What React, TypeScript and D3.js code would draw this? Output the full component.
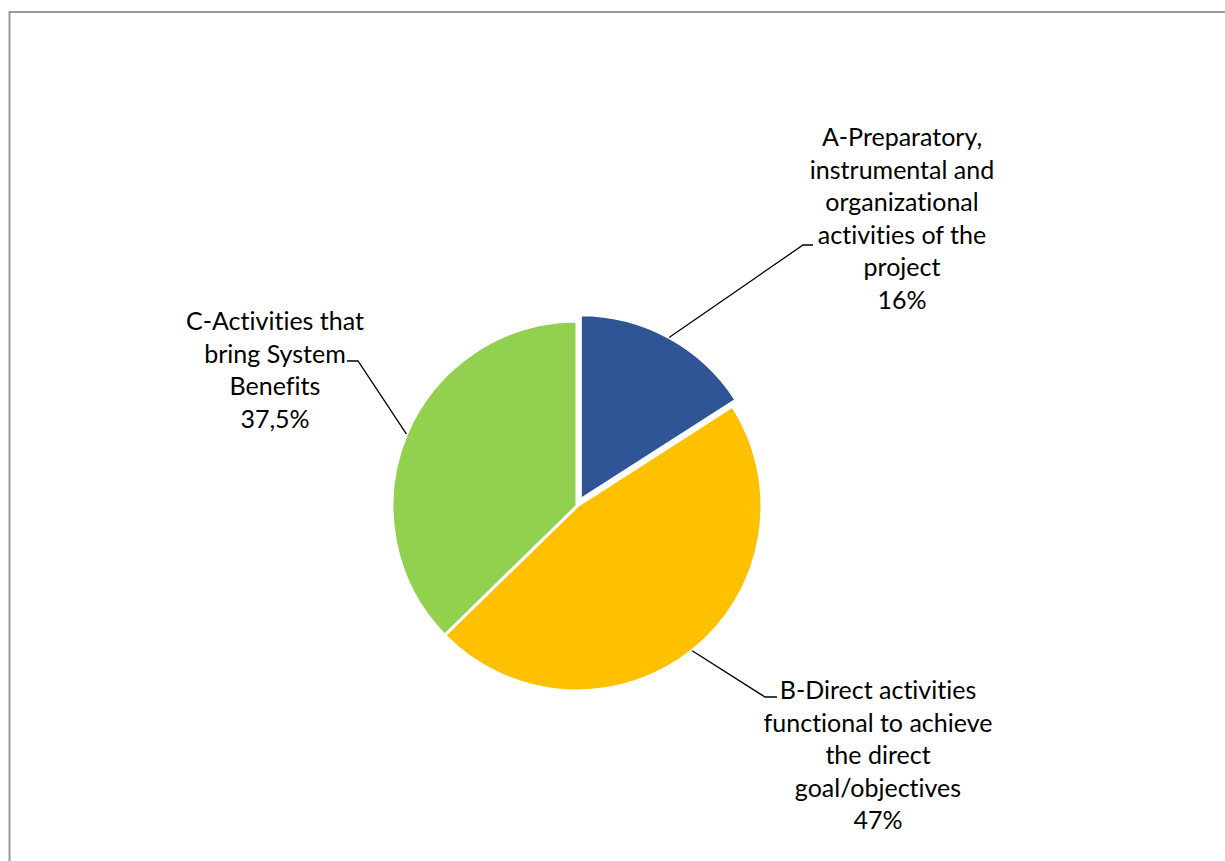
import React from "react";
import * as d3 from "d3";

const categories = ["A", "B", "C"];
const labelLines = [
  ["A-Preparatory,", "instrumental and", "organizational", "activities of the", "project"],
  ["B-Direct activities", "functional to achieve", "the direct", "goal/objectives"],
  ["C-Activities that", "bring System", "Benefits"],
];
const values = [16, 47, 37.5];
const valueLabels = ["16%", "47%", "37,5%"];
const colors = ["#2F5597", "#FFC000", "#92D050"];
const explode = [7, 0, 0];

// label layout: text center x, first-line center y, elbow point, elbow end
const labelLayout = [
  { x: 902, y: 137, elbow: [803, 245], end: [813, 245] },
  { x: 878, y: 690, elbow: [765, 697], end: [777, 697] },
  { x: 275, y: 321, elbow: [358, 361], end: [347, 361] },
];

const W = 1225;
const H = 861;
const cx = 577;
const cy = 506;
const R = 185;
const lineH = 32.6;

export default function App() {
  const pie = d3.pie<number>().sort(null).value((d) => d)(values);
  const arc = d3.arc<d3.PieArcDatum<number>>().innerRadius(0).outerRadius(R);
  return (
    <svg width={W} height={H} style={{ position: "absolute", left: 0, top: 0 }}>
      <rect x={0} y={0} width={W} height={H} fill="#fff" />
      <rect x={9.5} y={12} width={W + 20} height={H + 20} fill="none" stroke="#999" strokeWidth={2} />
      <g transform={`translate(${cx},${cy})`}>
        {pie.map((p, i) => {
          const mid = (p.startAngle + p.endAngle) / 2;
          const ox = Math.sin(mid) * explode[i];
          const oy = -Math.cos(mid) * explode[i];
          return (
            <path
              key={categories[i]}
              d={arc(p) || ""}
              transform={`translate(${ox},${oy})`}
              fill={colors[i]}
              stroke="#fff"
              strokeWidth={3}
              strokeLinejoin="round"
            />
          );
        })}
      </g>
      {pie.map((p, i) => {
        const mid = (p.startAngle + p.endAngle) / 2;
        const r = R + explode[i];
        const sx = cx + Math.sin(mid) * r;
        const sy = cy - Math.cos(mid) * r;
        const L = labelLayout[i];
        return (
          <polyline
            key={"l" + i}
            points={`${sx},${sy} ${L.elbow[0]},${L.elbow[1]} ${L.end[0]},${L.end[1]}`}
            fill="none"
            stroke="#000"
            strokeWidth={1.3}
          />
        );
      })}
      {labelLines.map((lines, i) => {
        const L = labelLayout[i];
        const all = [...lines, valueLabels[i]];
        return (
          <text
            key={"t" + i}
            textAnchor="middle"
            fontFamily="Lato, Liberation Sans, Arial, sans-serif"
            fontSize={25}
            fill="#000"
            style={{ fontVariantLigatures: "none", fontFeatureSettings: '"liga" 0, "clig" 0' }}
          >
            {all.map((s, j) => (
              <tspan key={j} x={L.x} y={L.y + j * lineH} dy="0.36em">
                {s}
              </tspan>
            ))}
          </text>
        );
      })}
    </svg>
  );
}
